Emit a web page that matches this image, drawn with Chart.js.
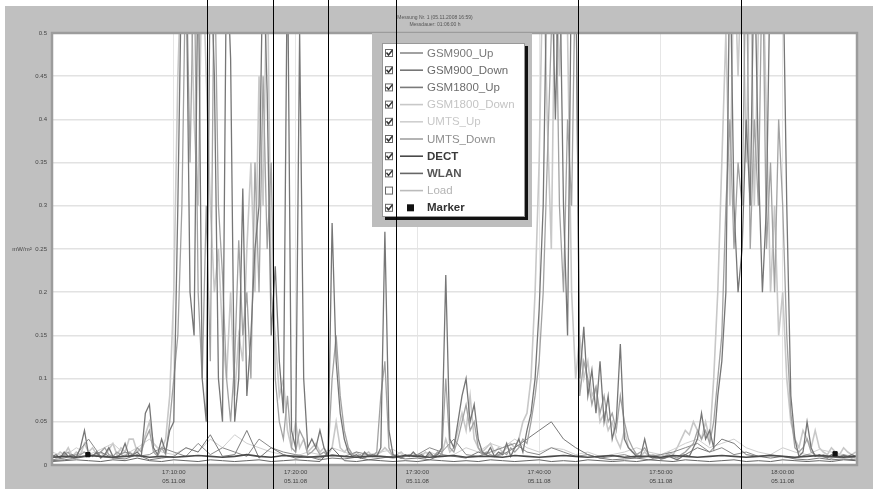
<!DOCTYPE html>
<html>
<head>
<meta charset="utf-8">
<script src="https://cdn.jsdelivr.net/npm/chart.js@4"></script>
<style>
html,body{margin:0;padding:0;background:#fff;}
#wrap{width:873px;height:489px;}
</style>
</head>
<body>
<div id="wrap"><canvas id="c" width="873" height="489"></canvas></div>
<script>
// ---------- DATA ----------
const titleLines = ["Messung Nr. 1 (05.11.2008 16:59)", "Messdauer: 01:06:00 h"];
const yAxisTitle = "mW/m²";
const yTicks = [0, 0.05, 0.1, 0.15, 0.2, 0.25, 0.3, 0.35, 0.4, 0.45, 0.5];
const xTickMinutes = [10, 20, 30, 40, 50, 60];
const xTickTimes = ["17:10:00", "17:20:00", "17:30:00", "17:40:00", "17:50:00", "18:00:00"];
const xTickDate = "05.11.08";
const xMaxMinutes = 66.1;
const mainStepMin = 1 / 3;   // 20 s sampling
const minorStepMin = 1;      // 1 min sampling

const gsm900Down = [
0.01,0.012,0.008,0.015,0.01,0.012,0.009,0.02,0.04,0.012,
0.01,0.015,0.008,0.012,0.02,0.01,0.009,0.013,0.025,0.01,
0.012,0.015,0.01,0.06,0.07,0.02,0.012,0.03,0.015,0.04,
0.05,0.3,0.6,0.6,0.2,0.15,0.6,0.1,0.05,0.6,
0.45,0.1,0.05,0.6,0.47,0.05,0.1,0.32,0.08,0.15,
0.25,0.3,0.6,0.43,0.15,0.23,0.12,0.06,0.6,0.04,
0.02,0.5,0.1,0.02,0.03,0.02,0.04,0.02,0.01,0.28,
0.12,0.06,0.03,0.015,0.01,0.012,0.008,0.015,0.01,0.012,
0.01,0.02,0.27,0.04,0.012,0.01,0.008,0.012,0.01,0.015,
0.01,0.012,0.009,0.015,0.01,0.012,0.02,0.22,0.03,0.02,
0.05,0.08,0.1,0.05,0.07,0.03,0.015,0.012,0.02,0.01,
0.015,0.012,0.025,0.01,0.02,0.03,0.015,0.04,0.06,0.1,
0.18,0.3,0.6,0.6,0.4,0.6,0.3,0.15,0.6,0.6,
0.1,0.16,0.08,0.11,0.06,0.12,0.05,0.08,0.03,0.05,
0.14,0.03,0.02,0.015,0.01,0.01,0.03,0.01,0.008,0.01,
0.007,0.008,0.01,0.008,0.006,0.009,0.012,0.01,0.02,0.03,
0.06,0.03,0.04,0.02,0.08,0.12,0.2,0.6,0.3,0.2,
0.25,0.4,0.3,0.6,0.35,0.2,0.3,0.6,0.6,0.5,
0.6,0.3,0.08,0.03,0.01,0.015,0.05,0.02,0.01,0.012,
0.01,0.008,0.012,0.01,0.009,0.011,0.01,0.012,0.01
];
const gsm1800Down = [
0.008,0.01,0.015,0.012,0.02,0.01,0.015,0.012,0.025,0.015,
0.02,0.012,0.015,0.01,0.018,0.025,0.012,0.02,0.015,0.03,
0.03,0.015,0.02,0.035,0.05,0.025,0.02,0.018,0.03,0.08,
0.2,0.45,0.6,0.5,0.6,0.4,0.3,0.6,0.45,0.3,
0.2,0.25,0.15,0.1,0.2,0.08,0.15,0.12,0.25,0.35,
0.2,0.45,0.3,0.6,0.2,0.15,0.08,0.1,0.04,0.02,
0.05,0.02,0.03,0.015,0.02,0.025,0.015,0.02,0.012,0.02,
0.05,0.02,0.015,0.02,0.012,0.015,0.01,0.012,0.015,0.01,
0.012,0.015,0.02,0.015,0.01,0.012,0.015,0.01,0.012,0.01,
0.012,0.01,0.015,0.012,0.01,0.015,0.012,0.03,0.015,0.02,
0.04,0.06,0.04,0.08,0.03,0.02,0.015,0.02,0.025,0.015,
0.02,0.015,0.02,0.025,0.02,0.03,0.05,0.06,0.1,0.2,
0.35,0.6,0.4,0.25,0.6,0.45,0.6,0.5,0.2,0.1,
0.15,0.1,0.12,0.08,0.09,0.05,0.06,0.04,0.05,0.03,
0.02,0.04,0.02,0.015,0.012,0.01,0.015,0.01,0.012,0.01,
0.012,0.01,0.015,0.012,0.02,0.03,0.04,0.035,0.05,0.04,
0.03,0.05,0.03,0.1,0.2,0.35,0.5,0.3,0.6,0.45,
0.6,0.35,0.6,0.3,0.5,0.6,0.4,0.2,0.3,0.15,
0.2,0.1,0.05,0.03,0.02,0.04,0.03,0.02,0.04,0.02,
0.015,0.012,0.02,0.015,0.012,0.02,0.015,0.012,0.015
];
const umtsDown = [
0.012,0.008,0.01,0.012,0.015,0.008,0.01,0.012,0.015,0.01,
0.012,0.01,0.015,0.02,0.012,0.01,0.015,0.012,0.01,0.015,
0.012,0.02,0.015,0.03,0.04,0.015,0.01,0.02,0.012,0.05,
0.1,0.15,0.3,0.6,0.35,0.6,0.2,0.1,0.3,0.12,
0.6,0.3,0.22,0.1,0.05,0.12,0.26,0.15,0.2,0.1,
0.35,0.2,0.45,0.25,0.35,0.1,0.05,0.03,0.08,0.02,
0.015,0.04,0.03,0.012,0.015,0.02,0.012,0.015,0.01,0.1,
0.15,0.08,0.04,0.02,0.012,0.01,0.012,0.008,0.012,0.01,
0.015,0.08,0.12,0.02,0.01,0.012,0.008,0.01,0.012,0.01,
0.012,0.01,0.008,0.012,0.01,0.015,0.012,0.1,0.02,0.015,
0.03,0.05,0.07,0.04,0.05,0.02,0.012,0.015,0.012,0.01,
0.012,0.015,0.012,0.02,0.015,0.02,0.03,0.025,0.05,0.08,
0.12,0.2,0.35,0.5,0.6,0.3,0.2,0.4,0.3,0.6,
0.08,0.12,0.1,0.07,0.09,0.06,0.08,0.05,0.06,0.04,
0.08,0.05,0.03,0.02,0.012,0.015,0.02,0.012,0.01,0.008,
0.008,0.01,0.012,0.01,0.008,0.012,0.015,0.02,0.025,0.04,
0.03,0.04,0.025,0.05,0.1,0.15,0.3,0.4,0.25,0.35,
0.3,0.6,0.25,0.4,0.3,0.6,0.25,0.35,0.2,0.4,
0.3,0.15,0.06,0.02,0.015,0.02,0.03,0.015,0.012,0.01,
0.012,0.01,0.008,0.012,0.01,0.012,0.01,0.008,0.01
];
const gsm900Up = [
0.006,0.008,0.012,0.03,0.01,0.008,0.015,0.01,0.012,0.02,
0.015,0.01,0.025,0.012,0.02,0.015,0.01,0.03,0.02,0.015,
0.012,0.01,0.008,0.012,0.01,0.015,0.012,0.01,0.008,0.01,
0.012,0.02,0.015,0.03,0.012,0.01,0.015,0.02,0.025,0.015,
0.012,0.02,0.015,0.01,0.012,0.008,0.01,0.012,0.008,0.01,
0.012,0.015,0.02,0.025,0.015,0.02,0.012,0.015,0.01,0.012,
0.01,0.008,0.012,0.01,0.008,0.01,0.008
];
const gsm1800Up = [
0.005,0.006,0.008,0.01,0.015,0.008,0.007,0.012,0.006,0.008,
0.01,0.02,0.015,0.035,0.01,0.012,0.04,0.008,0.02,0.012,
0.008,0.01,0.006,0.008,0.007,0.009,0.006,0.008,0.01,0.007,
0.008,0.006,0.012,0.01,0.008,0.015,0.01,0.012,0.02,0.03,
0.04,0.05,0.03,0.02,0.012,0.008,0.006,0.007,0.008,0.006,
0.008,0.01,0.012,0.02,0.015,0.03,0.025,0.012,0.01,0.008,
0.01,0.007,0.006,0.008,0.006,0.007,0.006
];
const umtsUp = [
0.015,0.01,0.02,0.012,0.018,0.025,0.012,0.02,0.03,0.015,
0.012,0.02,0.015,0.03,0.02,0.035,0.025,0.02,0.015,0.012,
0.01,0.015,0.012,0.02,0.015,0.01,0.012,0.015,0.018,0.01,
0.012,0.015,0.01,0.012,0.02,0.015,0.025,0.02,0.03,0.02,
0.015,0.02,0.018,0.012,0.015,0.01,0.012,0.015,0.02,0.015,
0.012,0.018,0.025,0.03,0.02,0.025,0.03,0.02,0.015,0.012,
0.02,0.015,0.012,0.018,0.015,0.012,0.01
];
const dect = [
0.009,0.01,0.009,0.011,0.01,0.009,0.01,0.011,0.009,0.01,
0.009,0.01,0.011,0.01,0.009,0.01,0.012,0.01,0.009,0.011,
0.01,0.009,0.01,0.011,0.01,0.009,0.01,0.01,0.009,0.011,
0.01,0.009,0.01,0.011,0.009,0.01,0.01,0.009,0.011,0.01,
0.009,0.01,0.011,0.01,0.009,0.01,0.011,0.009,0.01,0.01,
0.009,0.011,0.01,0.009,0.01,0.011,0.01,0.009,0.01,0.011,
0.01,0.009,0.01,0.011,0.01,0.009,0.01
];
const wlan = [
0.004,0.005,0.006,0.005,0.004,0.006,0.005,0.008,0.005,0.004,
0.006,0.005,0.004,0.006,0.005,0.004,0.005,0.006,0.004,0.005,
0.006,0.005,0.004,0.02,0.005,0.004,0.006,0.005,0.004,0.005,
0.004,0.006,0.005,0.004,0.005,0.004,0.006,0.005,0.004,0.005,
0.006,0.004,0.005,0.004,0.006,0.005,0.004,0.005,0.004,0.006,
0.005,0.004,0.006,0.005,0.004,0.005,0.006,0.004,0.005,0.004,
0.006,0.005,0.004,0.005,0.004,0.006,0.005
];
const loadValues = [];
const markerTimes = [2.95, 64.3];
const markerValues = [0.012, 0.013];
const cursorTimes = [12.73, 18.15, 22.66, 28.25, 43.19, 56.57];

// ---------- BUILD ----------
const mainXY = arr => arr.map((v, i) => ({x: i * mainStepMin, y: v}));
const minorXY = arr => arr.map((v, i) => ({x: i * minorStepMin, y: v}));
const lineDs = (label, data, color, order, width, checked, textColor, bold) => ({
  label, data, borderColor: color, backgroundColor: color, borderWidth: width,
  pointRadius: 0, tension: 0, fill: false, order, hidden: !checked,
  legendChecked: checked, legendText: textColor, legendBold: bold
});

const datasets = [
  lineDs("GSM900_Up", minorXY(gsm900Up), "#8a8a8a", 6, 1, true, "#7a7a7a", false),
  lineDs("GSM900_Down", mainXY(gsm900Down), "#767676", 3, 1.3, true, "#6a6a6a", false),
  lineDs("GSM1800_Up", minorXY(gsm1800Up), "#7a7a7a", 5, 1, true, "#6e6e6e", false),
  lineDs("GSM1800_Down", mainXY(gsm1800Down), "#c8c8c8", 9, 1.6, true, "#c4c4c4", false),
  lineDs("UMTS_Up", minorXY(umtsUp), "#cfcfcf", 8, 1, true, "#c8c8c8", false),
  lineDs("UMTS_Down", mainXY(umtsDown), "#a2a2a2", 4, 1.3, true, "#8e8e8e", false),
  lineDs("DECT", minorXY(dect), "#4a4a4a", 1, 1.6, true, "#3a3a3a", true),
  lineDs("WLAN", minorXY(wlan), "#666666", 2, 1, true, "#555555", true),
  lineDs("Load", loadValues, "#bbbbbb", 7, 1, false, "#b4b4b4", false),
  {
    label: "Marker", type: "scatter",
    data: markerTimes.map((t, i) => ({x: t, y: markerValues[i]})),
    pointStyle: "rect", pointRadius: 3, borderColor: "#111", backgroundColor: "#111",
    order: 0, showLine: false, legendChecked: true, legendText: "#333", legendBold: true
  }
];

const framePlugin = {
  id: "frame",
  beforeDraw(chart) {
    const ctx = chart.ctx, a = chart.chartArea;
    ctx.save();
    ctx.fillStyle = "#ffffff";
    ctx.fillRect(0, 0, chart.width, chart.height);
    ctx.fillStyle = "#c0c0c0";
    ctx.fillRect(5, 6, chart.width - 5, chart.height - 6);
    ctx.fillStyle = "#ffffff";
    ctx.fillRect(a.left, a.top, a.right - a.left, a.bottom - a.top);
    // title
    ctx.fillStyle = "#555";
    ctx.font = "5px 'Liberation Sans', Arial, sans-serif";
    ctx.textAlign = "center";
    ctx.textBaseline = "middle";
    ctx.fillText(titleLines[0], 435, 18);
    ctx.fillText(titleLines[1], 435, 25);
    // y axis title
    ctx.font = "6px 'Liberation Sans', Arial, sans-serif";
    ctx.fillStyle = "#444";
    ctx.fillText(yAxisTitle, 22, chart.scales.y.getPixelForValue(0.25));
    ctx.restore();
  },
  afterDatasetsDraw(chart) {
    const ctx = chart.ctx, a = chart.chartArea;
    ctx.save();
    ctx.strokeStyle = "#9c9c9c";
    ctx.lineWidth = 2.5;
    ctx.strokeRect(a.left, a.top, a.right - a.left, a.bottom - a.top);
    // legend panel
    const L = {x: 372, y: a.top, w: 160, h: 194};
    ctx.fillStyle = "#bdbdbd";
    ctx.fillRect(L.x, L.y, L.w, L.h);
    const bx = 382, by = 43, bw = 143, bh = 174;
    ctx.fillStyle = "#111";
    ctx.fillRect(bx + 3, by + 3, bw, bh);
    ctx.fillStyle = "#fff";
    ctx.fillRect(bx, by, bw, bh);
    ctx.strokeStyle = "#999";
    ctx.lineWidth = 1;
    ctx.strokeRect(bx + 0.5, by + 0.5, bw - 1, bh - 1);
    const ds = chart.data.datasets;
    ds.forEach((d, i) => {
      const y = 53 + i * 17.2;
      // checkbox
      ctx.fillStyle = "#fff";
      ctx.fillRect(385, y - 4, 8, 8);
      ctx.strokeStyle = "#666";
      ctx.lineWidth = 1;
      ctx.strokeRect(385.5, y - 3.5, 7, 7);
      if (d.legendChecked) {
        ctx.strokeStyle = "#333";
        ctx.lineWidth = 1.5;
        ctx.beginPath();
        ctx.moveTo(386.5, y - 0.5);
        ctx.lineTo(388.5, y + 2);
        ctx.lineTo(392.5, y - 3);
        ctx.stroke();
      }
      if (d.type === "scatter") {
        ctx.fillStyle = "#111";
        ctx.fillRect(407, y - 3.5, 7, 7);
      } else {
        ctx.strokeStyle = d.borderColor;
        ctx.lineWidth = 1.6;
        ctx.beginPath();
        ctx.moveTo(400, y);
        ctx.lineTo(423, y);
        ctx.stroke();
      }
      ctx.fillStyle = d.legendText;
      ctx.font = (d.legendBold ? "bold " : "") + "11.5px 'Liberation Sans', Arial, sans-serif";
      ctx.textAlign = "left";
      ctx.textBaseline = "middle";
      ctx.fillText(d.label, 427, y + 0.5);
    });
    ctx.restore();
  },
  afterDraw(chart) {
    const ctx = chart.ctx, xs = chart.scales.x;
    ctx.save();
    ctx.strokeStyle = "#000";
    ctx.lineWidth = 1;
    cursorTimes.forEach(t => {
      const px = Math.round(xs.getPixelForValue(t)) + 0.5;
      ctx.beginPath();
      ctx.moveTo(px, 0);
      ctx.lineTo(px, chart.height);
      ctx.stroke();
    });
    ctx.restore();
  }
};

new Chart(document.getElementById("c"), {
  type: "line",
  data: {datasets},
  options: {
    responsive: false,
    animation: false,
    events: [],
    layout: {padding: {left: 0, right: 16, top: 33, bottom: 0}},
    plugins: {legend: {display: false}, title: {display: false}, tooltip: {enabled: false}},
    scales: {
      x: {
        type: "linear", min: 0, max: xMaxMinutes,
        afterBuildTicks: ax => { ax.ticks = xTickMinutes.map(v => ({value: v})); },
        afterFit: ax => { ax.height = 24; },
        grid: {color: "#e6e6e6", lineWidth: 1, drawTicks: false},
        border: {display: false},
        ticks: {
          autoSkip: false, maxRotation: 0, minRotation: 0, padding: 3,
          color: "#444", font: {size: 6, family: "'Liberation Sans', Arial, sans-serif", lineHeight: 1.45},
          callback: (v, i) => [xTickTimes[i], xTickDate]
        }
      },
      y: {
        min: 0, max: 0.5,
        afterBuildTicks: ax => { ax.ticks = yTicks.map(v => ({value: v})); },
        afterFit: ax => { ax.width = 52; },
        grid: {color: "#e2e2e2", lineWidth: 1.5, drawTicks: false},
        border: {display: false},
        ticks: {
          padding: 5, color: "#444",
          font: {size: 6, family: "'Liberation Sans', Arial, sans-serif"},
          callback: v => String(Number(v.toFixed(2)))
        }
      }
    }
  },
  plugins: [framePlugin]
});
</script>
</body>
</html>
